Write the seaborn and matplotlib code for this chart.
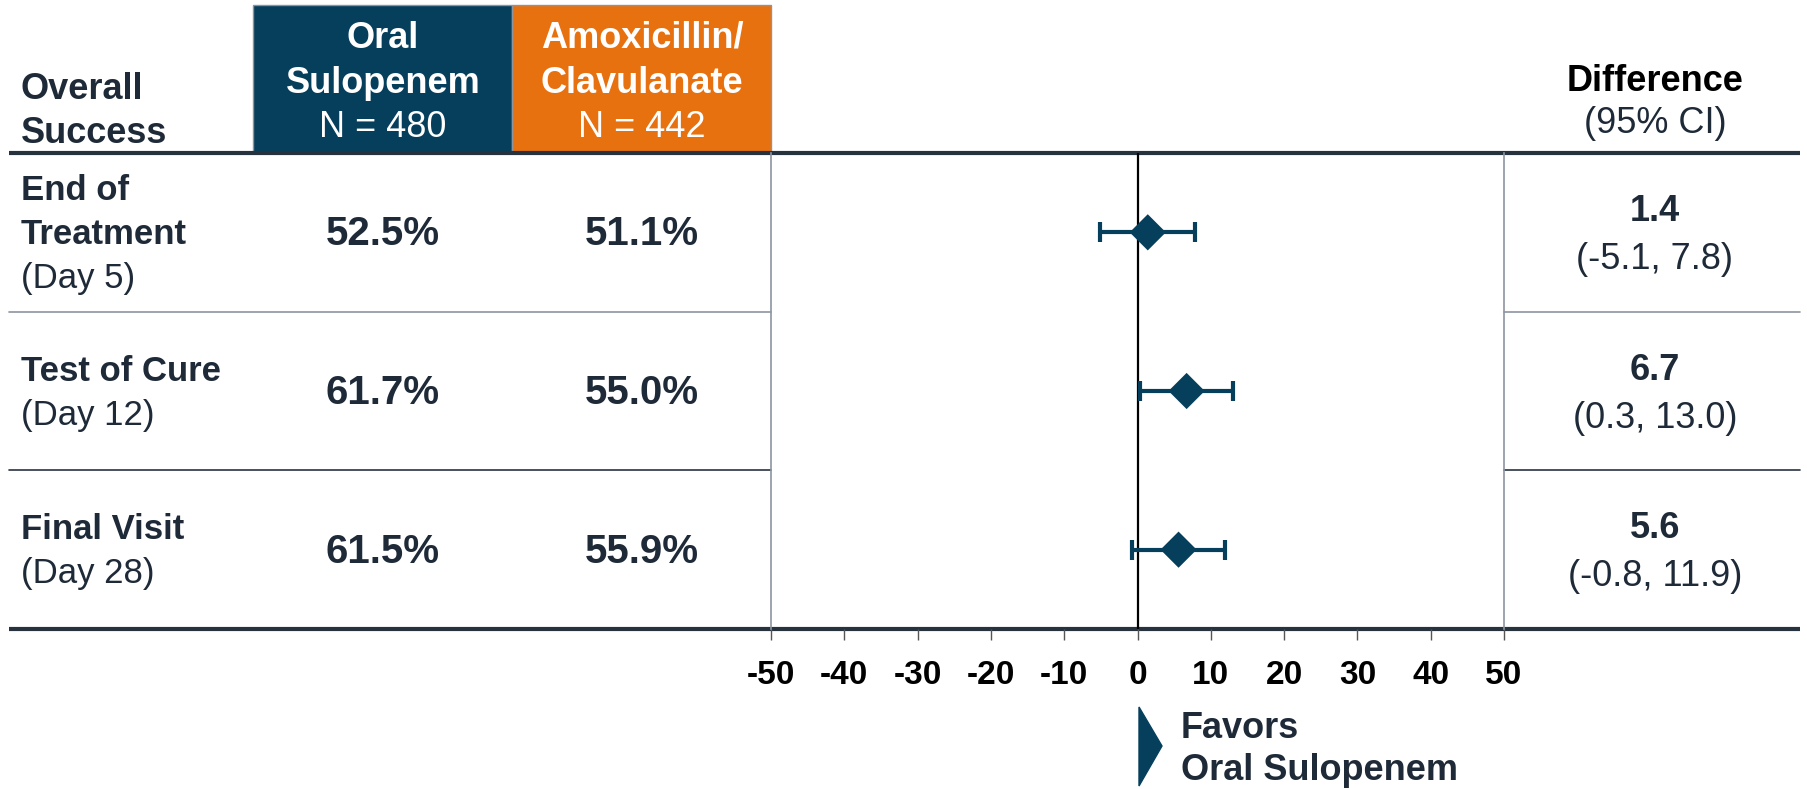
import matplotlib
matplotlib.use("Agg")
import matplotlib.pyplot as plt
from matplotlib.patches import Rectangle, Polygon
import seaborn as sns
import pandas as pd

# data
row_titles = [["End of", "Treatment"], ["Test of Cure"], ["Final Visit"]]
row_days = ["(Day 5)", "(Day 12)", "(Day 28)"]
sulopenem_pct = [52.5, 61.7, 61.5]
amox_clav_pct = [51.1, 55.0, 55.9]
diff = [1.4, 6.7, 5.6]
ci_low = [-5.1, 0.3, -0.8]
ci_high = [7.8, 13.0, 11.9]
n_sulopenem = 480
n_amox_clav = 442
x_ticks = [-50, -40, -30, -20, -10, 0, 10, 20, 30, 40, 50]

BLUE = "#063F5C"
ORANGE = "#E8710F"
TXT = "#1E2A38"
GRAY = "#8C959F"
DARK = "#27323F"

sns.set_theme(style="white")
plt.rcParams["font.family"] = ["Liberation Sans", "DejaVu Sans"]

W, H = 1807, 789
fig = plt.figure(figsize=(W / 100, H / 100), dpi=100)

# background axes in pixel coordinates for the table part
bg = fig.add_axes([0, 0, 1, 1])
bg.set_xlim(0, W)
bg.set_ylim(H, 0)
bg.axis("off")

top_y, bot_y = 153, 629
plot_l, plot_r = 771, 1504
row_h = (bot_y - top_y) / 3
row_c = [top_y + row_h * (i + 0.5) for i in range(3)]

# header boxes
bg.add_patch(Rectangle((253, 5), 259, top_y - 5, facecolor=BLUE, edgecolor=GRAY, lw=1))
bg.add_patch(Rectangle((512, 5), plot_l - 512, top_y - 5, facecolor=ORANGE, edgecolor=GRAY, lw=1))
c1, c2, c3 = 383, 642, 1655

bg.text(21, 89, "Overall", ha="left", va="center", fontsize=26, fontweight="bold", color=TXT)
bg.text(21, 133, "Success", ha="left", va="center", fontsize=26, fontweight="bold", color=TXT)
bg.text(c1, 38, "Oral", ha="center", va="center", fontsize=26, fontweight="bold", color="white")
bg.text(c1, 83, "Sulopenem", ha="center", va="center", fontsize=26, fontweight="bold", color="white")
bg.text(c1, 127, f"N = {n_sulopenem}", ha="center", va="center", fontsize=26, color="white")
bg.text(c2, 38, "Amoxicillin/", ha="center", va="center", fontsize=26, fontweight="bold", color="white")
bg.text(c2, 83, "Clavulanate", ha="center", va="center", fontsize=26, fontweight="bold", color="white")
bg.text(c2, 127, f"N = {n_amox_clav}", ha="center", va="center", fontsize=26, color="white")
bg.text(c3, 81, "Difference", ha="center", va="center", fontsize=26, fontweight="bold", color="black")
bg.text(c3, 123, "(95% CI)", ha="center", va="center", fontsize=26, color=TXT)

# horizontal rules
bg.plot([9, 1800], [top_y, top_y], color=DARK, lw=3, solid_capstyle="butt")
bg.plot([9, 1800], [bot_y, bot_y], color=DARK, lw=3, solid_capstyle="butt")
for i, col in zip([1, 2], [GRAY, DARK]):
    y = top_y + row_h * i
    bg.plot([9, plot_l], [y, y], color=col, lw=1.2)
    bg.plot([plot_r, 1800], [y, y], color=col, lw=1.2)

# table rows
for i in range(3):
    rc = row_c[i]
    lines = row_titles[i]
    n = len(lines) + 1
    start = rc + 2 - 44 * (n - 1) / 2
    for j, ln in enumerate(lines):
        bg.text(21, start + 44 * j, ln, ha="left", va="center", fontsize=25,
                fontweight="bold", color=TXT)
    bg.text(21, start + 44 * len(lines), row_days[i], ha="left", va="center",
            fontsize=25, color=TXT)
    bg.text(c1, rc + 2, f"{sulopenem_pct[i]:.1f}%", ha="center", va="center",
            fontsize=29, fontweight="bold", color=TXT)
    bg.text(c2, rc + 2, f"{amox_clav_pct[i]:.1f}%", ha="center", va="center",
            fontsize=29, fontweight="bold", color=TXT)
    bg.text(c3, rc - 21, f"{diff[i]:.1f}", ha="center", va="center",
            fontsize=26, fontweight="bold", color=TXT)
    bg.text(c3, rc + 27, f"({ci_low[i]:.1f}, {ci_high[i]:.1f})", ha="center", va="center",
            fontsize=26, color=TXT)

# favors legend
bg.add_patch(Polygon([(1139, 707), (1139, 786), (1162, 746)], closed=True, color=BLUE))
bg.text(1181, 728, "Favors", ha="left", va="center", fontsize=26, fontweight="bold", color=TXT)
bg.text(1181, 771, "Oral Sulopenem", ha="left", va="center", fontsize=26, fontweight="bold", color=TXT)

# forest plot
ax = fig.add_axes([plot_l / W, 1 - bot_y / H, (plot_r - plot_l) / W, (bot_y - top_y) / H])
ax.patch.set_alpha(0)
df = pd.DataFrame({"diff": diff, "lo": ci_low, "hi": ci_high, "row": [0, 1, 2]})
ax.axvline(0, color="black", lw=1.6, zorder=1)
ax.errorbar(df["diff"], df["row"], xerr=[df["diff"] - df["lo"], df["hi"] - df["diff"]],
            fmt="none", ecolor=BLUE, elinewidth=3, capsize=7, capthick=3, zorder=2)
sns.scatterplot(data=df, x="diff", y="row", marker="D", s=340, color=BLUE,
                edgecolor="none", ax=ax, zorder=3)
ax.set_xlim(-50, 50)
ax.set_ylim(2.5, -0.5)
ax.set_xticks(x_ticks)
ax.set_xticklabels([str(t) for t in x_ticks], fontsize=24, fontweight="bold", color="black")
ax.set_yticks([])
ax.set_xlabel("")
ax.set_ylabel("")
ax.tick_params(axis="x", direction="out", length=8, width=1, color="#555555", pad=14, bottom=True)
for s in ["top", "bottom"]:
    ax.spines[s].set_visible(False)
for s in ["left", "right"]:
    ax.spines[s].set_color(GRAY)
    ax.spines[s].set_linewidth(1.2)

fig.savefig("out.png", dpi=100)
